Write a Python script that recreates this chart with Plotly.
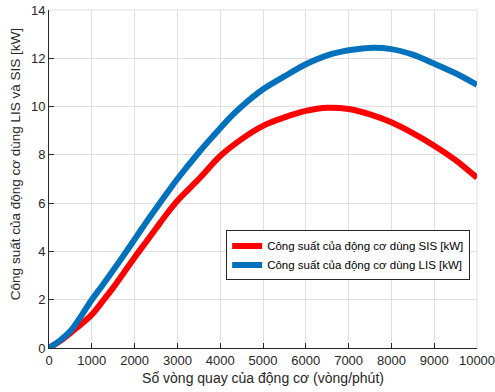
import plotly.graph_objects as go

# Engine speed (rpm) and power (kW) for the two intake systems
rpm_lis = [0, 250, 500, 750, 1000, 1250, 1500, 1750, 2000, 2250, 2500, 2750, 3000, 3500,
           4000, 4250, 4500, 4750, 5000, 5500, 6000, 6500, 7000, 7500, 8000, 8500, 9000,
           9500, 10000]
power_lis = [0, 0.3, 0.7, 1.32, 2.0, 2.6, 3.22, 3.85, 4.5, 5.15, 5.78, 6.4, 7.0, 8.1,
             9.1, 9.58, 10.0, 10.38, 10.72, 11.25, 11.75, 12.12, 12.33, 12.43, 12.38, 12.15,
             11.78, 11.38, 10.9]

rpm_sis = [0, 250, 500, 750, 1000, 1250, 1500, 1750, 2000, 2250, 2500, 2750, 3000, 3500,
           4000, 4500, 5000, 5500, 6000, 6500, 7000, 7500, 8000, 8500, 9000, 9500, 10000]
power_sis = [0, 0.28, 0.62, 0.98, 1.38, 1.93, 2.5, 3.12, 3.75, 4.35, 4.95, 5.55, 6.1, 7.0,
             7.95, 8.65, 9.2, 9.55, 9.82, 9.95, 9.9, 9.68, 9.35, 8.9, 8.38, 7.78, 7.05]

x_ticks = [0, 1000, 2000, 3000, 4000, 5000, 6000, 7000, 8000, 9000, 10000]
y_ticks = [0, 2, 4, 6, 8, 10, 12, 14]

name_sis = "Công suất của động cơ dùng SIS [kW]"
name_lis = "Công suất của động cơ dùng LIS [kW]"
x_title = "Số vòng quay của động cơ (vòng/phút)"
y_title = "Công suất của động cơ dùng LIS và SIS [kW]"

FONT = "Liberation Sans, Arial, Helvetica, sans-serif"
AX = "#262626"
GRID = "#e0e0e0"

fig = go.Figure()
fig.add_trace(go.Scatter(x=rpm_sis, y=power_sis, mode="lines", name=name_sis,
                         line=dict(color="#ff0000", width=6, shape="spline", smoothing=0.8)))
fig.add_trace(go.Scatter(x=rpm_lis, y=power_lis, mode="lines", name=name_lis,
                         line=dict(color="#0072bd", width=6, shape="spline", smoothing=0.8)))

axis_common = dict(
    showline=True, linecolor=AX, linewidth=1, mirror=False,
    ticks="inside", ticklen=5, tickcolor=AX, tickwidth=1,
    showgrid=True, gridcolor=GRID, gridwidth=1, zeroline=False,
    tickfont=dict(family=FONT, size=13, color=AX),
    ticklabeloverflow="allow", automargin=False,
)

fig.update_xaxes(range=[0, 10000], tickvals=x_ticks, ticktext=[str(v) for v in x_ticks],
                 title=dict(text=x_title, font=dict(family=FONT, size=14, color=AX), standoff=6),
                 **axis_common)
fig.update_yaxes(range=[0, 14], tickvals=y_ticks, **axis_common)

# y-axis title placed as a rotated annotation
fig.add_annotation(text=y_title, xref="paper", yref="paper", x=-0.0794, y=0.544,
                   xanchor="center", yanchor="middle", textangle=-90, showarrow=False,
                   font=dict(family=FONT, size=13.5, color=AX))

# light frame on the top and right edges of the plot area
fig.add_shape(type="line", xref="paper", yref="paper", x0=0, x1=1, y0=1, y1=1,
              line=dict(color=GRID, width=1), layer="below")
fig.add_shape(type="line", xref="paper", yref="paper", x0=1, x1=1, y0=0, y1=1,
              line=dict(color=GRID, width=1), layer="below")

fig.update_layout(
    width=495, height=392,
    margin=dict(l=49, r=18, t=10, b=44, autoexpand=False),
    plot_bgcolor="white", paper_bgcolor="white",
    font=dict(family=FONT, color=AX),
    legend=dict(x=0.984, y=0.348, xanchor="right", yanchor="top",
                bgcolor="white", bordercolor=AX, borderwidth=1,
                font=dict(family=FONT, size=11.5, color="black"),
                tracegroupgap=0, itemwidth=30),
    showlegend=True,
)

fig.write_html("out.html")
